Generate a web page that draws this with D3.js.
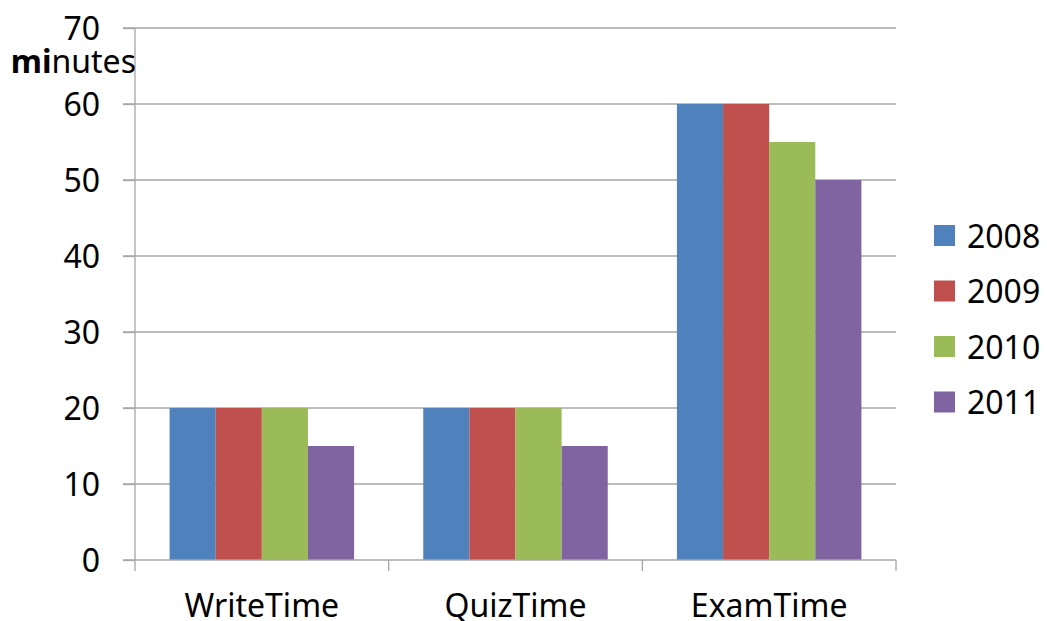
<!DOCTYPE html>
<html><head><meta charset="utf-8">
<script src="https://cdn.jsdelivr.net/npm/d3@7"></script>
<style>body{margin:0;background:#fff}svg{display:block}text{font-family:"Noto Sans",sans-serif;fill:#000}</style>
</head><body>
<svg id="c" width="1047" height="621"></svg>
<script>
const categories = ["WriteTime", "QuizTime", "ExamTime"];
const years = ["2008", "2009", "2010", "2011"];
const values2008 = [20, 20, 60];
const values2009 = [20, 20, 60];
const values2010 = [20, 20, 55];
const values2011 = [15, 15, 50];
const yTicks = [0, 10, 20, 30, 40, 50, 60, 70];
const colors = ["#4F81BD", "#C0504D", "#9BBB59", "#8064A2"];
const seriesValues = [values2008, values2009, values2010, values2011];

const FS = "32px";
const svg = d3.select("#c");
const L = 135, R = 896, T = 28, B = 560;
const x = d3.scaleBand().domain(categories).range([L, R]).paddingInner(0).paddingOuter(0);
const y = d3.scaleLinear().domain([0, 70]).range([B, T]);
const inner = d3.scaleBand().domain(years).range([0, x.bandwidth()]).paddingOuter(0.75).paddingInner(0);

// gridlines
svg.append("g").selectAll("line").data(yTicks.filter(d => d > 0)).join("line")
  .attr("x1", L - 12).attr("x2", R).attr("y1", d => y(d)).attr("y2", d => y(d))
  .attr("stroke", "#a6a6a6").attr("stroke-width", 1.3);

// bars
years.forEach((yr, i) => {
  svg.append("g").selectAll("rect").data(categories).join("rect")
    .attr("x", c => x(c) + inner(yr))
    .attr("width", inner.bandwidth())
    .attr("y", (c, j) => y(seriesValues[i][j]))
    .attr("height", (c, j) => B - y(seriesValues[i][j]))
    .attr("fill", colors[i]);
});

// y axis
const yAxis = d3.axisLeft(y).tickValues(yTicks).tickSize(12).tickPadding(23);
const ga = svg.append("g").attr("transform", `translate(${L},0)`).call(yAxis);
ga.select(".domain").remove();
ga.selectAll(".tick line").attr("stroke", "#a6a6a6").attr("stroke-width", 1.3);
ga.selectAll(".tick text").style("font-size", FS).attr("dy", "0.36em").attr("fill", "#000");
svg.append("line").attr("x1", L).attr("x2", L).attr("y1", T).attr("y2", B)
  .attr("stroke", "#a6a6a6").attr("stroke-width", 1.3);

// x axis
const xAxis = d3.axisBottom(x).tickSize(0);
const gx = svg.append("g").attr("transform", `translate(0,${B})`).call(xAxis);
gx.select(".domain").remove();
gx.selectAll(".tick text").style("font-size", FS).attr("fill", "#000").attr("y", 57).attr("dy", "0");
svg.append("line").attr("x1", L - 12).attr("x2", R).attr("y1", B).attr("y2", B)
  .attr("stroke", "#a6a6a6").attr("stroke-width", 1.3);
const bounds = categories.map(c => x(c)).concat([R]);
svg.append("g").selectAll("line").data(bounds).join("line")
  .attr("x1", d => d).attr("x2", d => d).attr("y1", B).attr("y2", B + 11)
  .attr("stroke", "#a6a6a6").attr("stroke-width", 1.3);

// axis title
const t = svg.append("text").attr("x", 136).attr("y", 73).attr("text-anchor", "end").style("font-size", FS);
t.append("tspan").attr("font-weight", "bold").text("mi");
t.append("tspan").text("nutes");

// legend
const lg = svg.append("g").selectAll("g").data(years).join("g")
  .attr("transform", (d, i) => `translate(934,${235 + i * 55.5})`);
lg.append("rect").attr("x", 0).attr("y", -10).attr("width", 21).attr("height", 21).attr("fill", (d, i) => colors[i]);
lg.append("text").attr("x", 33).attr("y", 1).attr("dy", "0.36em").style("font-size", FS).text(d => d);
</script>
</body></html>
